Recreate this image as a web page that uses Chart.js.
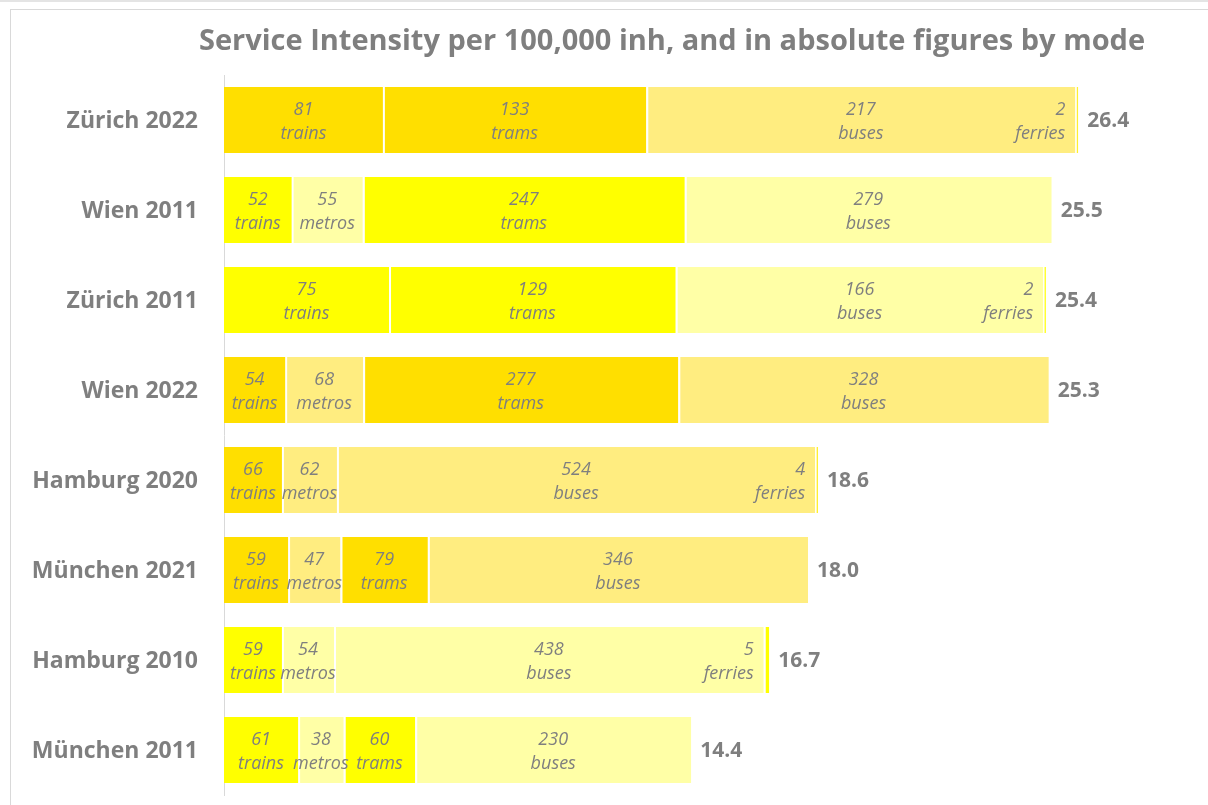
<!DOCTYPE html>
<html>
<head>
<meta charset="utf-8">
<script src="https://cdn.jsdelivr.net/npm/chart.js@4.4.1/dist/chart.umd.min.js"></script>
<style>
  html, body { margin: 0; padding: 0; background: #ffffff; overflow: hidden; }
  #wrap { position: relative; width: 1208px; height: 805px; }
  #topstrip { position: absolute; left: 0; top: 0; width: 1208px; height: 2px; background: #e4e4e4; }
  #frame { position: absolute; left: 10px; top: 9px; width: 1230px; height: 830px; border: 1px solid #d9d9d9; }
  canvas { position: absolute; left: 0; top: 0; }
</style>
</head>
<body>
<div id="wrap">
  <div id="topstrip"></div>
  <div id="frame"></div>
  <canvas id="c" width="1208" height="805"></canvas>
</div>
<script>
// ---- data ----
const chartTitle = 'Service Intensity per 100,000 inh, and in absolute figures by mode';
const categories = ['Zürich 2022', 'Wien 2011', 'Zürich 2011', 'Wien 2022', 'Hamburg 2020', 'München 2021', 'Hamburg 2010', 'München 2011'];
const modes = ['trains', 'metros', 'trams', 'buses', 'ferries'];

// service intensity per 100,000 inh (bar lengths)
const trains  = [4.91, 2.09, 5.10, 1.89, 1.79, 1.98, 1.79, 2.29];
const metros  = [null, 2.20, null, 2.41, 1.70, 1.62, 1.61, 1.41];
const trams   = [8.14, 9.95, 8.86, 9.74, null, 2.70, null, 2.21];
const buses   = [13.26, 11.34, 11.36, 11.45, 14.78, 11.75, 13.28, 8.53];
const ferries = [0.09, null, 0.08, null, 0.09, null, 0.17, null];

// absolute figures (segment labels)
const trainsAbs  = [81, 52, 75, 54, 66, 59, 59, 61];
const metrosAbs  = [null, 55, null, 68, 62, 47, 54, 38];
const tramsAbs   = [133, 247, 129, 277, null, 79, null, 60];
const busesAbs   = [217, 279, 166, 328, 524, 346, 438, 230];
const ferriesAbs = [2, null, 2, null, 4, null, 5, null];

// totals shown at the end of each bar
const totals = [26.4, 25.5, 25.4, 25.3, 18.6, 18.0, 16.7, 14.4];

// ---- styles ----
const rowPalette = ['gold', 'yellow', 'yellow', 'gold', 'gold', 'gold', 'yellow', 'yellow'];
const palettes = {
  gold:   { strong: '#FFDF00', light: '#FFED80', ferry: '#FFEF30' },
  yellow: { strong: '#FFFF00', light: '#FFFFA6', ferry: '#FFFF00' }
};
const modeTone = { trains: 'strong', metros: 'light', trams: 'strong', buses: 'light', ferries: 'ferry' };
const GREY = '#7f7f7f';

const values = [trains, metros, trams, buses, ferries];
const absValues = [trainsAbs, metrosAbs, tramsAbs, busesAbs, ferriesAbs];

const datasets = modes.map((m, i) => ({
  label: m,
  data: values[i],
  absData: absValues[i],
  backgroundColor: categories.map((c, r) => palettes[rowPalette[r]][modeTone[m]]),
  borderColor: '#ffffff',
  borderWidth: i === 0 ? 0 : { left: 2, right: 0, top: 0, bottom: 0 },
  borderSkipped: false,
  barPercentage: 0.733,
  categoryPercentage: 1.0
}));

const labelPlugin = {
  id: 'segmentLabels',
  afterDatasetsDraw(chart) {
    const ctx = chart.ctx;
    ctx.save();
    ctx.fillStyle = GREY;
    const nRows = categories.length;
    const stackEnd = new Array(nRows).fill(null);
    chart.data.datasets.forEach((ds, di) => {
      const meta = chart.getDatasetMeta(di);
      meta.data.forEach((bar, r) => {
        const v = ds.data[r];
        if (v === null || v === undefined) return;
        const right = Math.max(bar.x, bar.base);
        const left = Math.min(bar.x, bar.base);
        stackEnd[r] = stackEnd[r] === null ? right : Math.max(stackEnd[r], right);
        const a = ds.absData[r];
        if (a === null || a === undefined) return;
        ctx.font = 'italic 18px "Open Sans"';
        ctx.textBaseline = 'middle';
        let x;
        if (ds.label === 'ferries') {
          ctx.textAlign = 'right';
          x = left - 10;
        } else {
          ctx.textAlign = 'center';
          x = (left + right) / 2;
        }
        ctx.fillText(String(a), x, bar.y - 10);
        ctx.fillText(ds.label, x, bar.y + 14);
      });
    });
    // totals
    const yScale = chart.scales.y;
    ctx.font = 'bold 21px "Open Sans"';
    ctx.textAlign = 'left';
    ctx.textBaseline = 'middle';
    for (let r = 0; r < nRows; r++) {
      if (stackEnd[r] === null) continue;
      ctx.fillText(totals[r].toFixed(1), stackEnd[r] + 9, yScale.getPixelForValue(r) + 1);
    }
    // category labels
    ctx.font = 'bold 23px "Open Sans"';
    ctx.textAlign = 'right';
    for (let r = 0; r < nRows; r++) {
      ctx.fillText(categories[r], chart.chartArea.left - 26, yScale.getPixelForValue(r) + 1);
    }
    // title
    ctx.font = 'bold 29px "Open Sans"';
    ctx.textAlign = 'center';
    ctx.fillText(chartTitle, (chart.chartArea.left + chart.chartArea.right) / 2, 42);
    ctx.restore();
  }
};

new Chart(document.getElementById('c'), {
  type: 'bar',
  data: { labels: categories, datasets: datasets },
  options: {
    indexAxis: 'y',
    responsive: false,
    animation: false,
    layout: { padding: { left: 0, right: 88, top: 75, bottom: 10 } },
    plugins: {
      legend: { display: false },
      tooltip: { enabled: false },
      title: { display: false }
    },
    scales: {
      x: {
        stacked: true,
        display: false,
        min: 0,
        max: 27.69
      },
      y: {
        stacked: true,
        afterFit(scale) { scale.width = 224; },
        grid: { display: false, drawTicks: false },
        border: { display: true, color: '#d9d9d9', width: 1 },
        ticks: { display: false }
      }
    }
  },
  plugins: [labelPlugin]
});
</script>
</body>
</html>
